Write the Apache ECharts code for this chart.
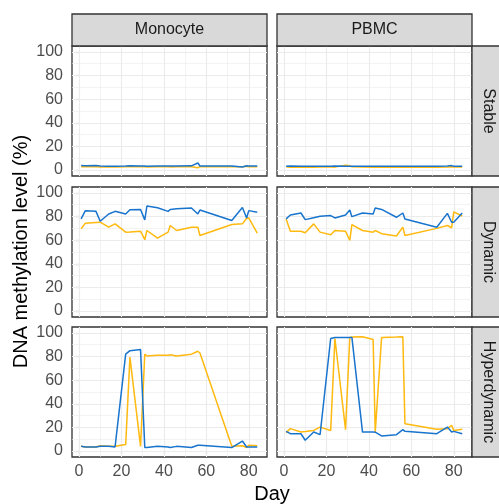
<!DOCTYPE html>
<html><head><meta charset="utf-8">
<script src="https://cdn.jsdelivr.net/npm/echarts@6/dist/echarts.min.js"></script>
<style>html,body{margin:0;padding:0;background:#fff}#c{width:499px;height:504px}</style>
</head><body><div id="c"></div>
<script>
// ---- data ----
const days = [1,3,8,10,14,17,22,24,29,31,32,37,42,43,46,53,56,57,72,77,79,80,84];
const cellTypes = ['Monocyte','PBMC'];
const groups = ['Stable','Dynamic','Hyperdynamic'];
const xTicks = [0,20,40,60,80];
const yTicks = [0,20,40,60,80,100];
const xMinor = [10,30,50,70];
const yMinor = [10,30,50,70,90];

const monoStableBlue   = [3.8,3.7,3.8,3.4,3.3,3.3,3.5,3.6,3.4,3.5,3.3,3.4,3.5,3.4,3.5,3.6,6.0,3.5,3.5,2.6,3.6,3.5,3.5];
const monoStableYellow = [2.8,2.8,2.9,2.7,2.8,2.7,2.8,2.9,2.8,2.8,2.7,2.8,2.8,2.7,2.8,2.8,2.0,2.9,2.8,2.8,3.2,2.8,2.8];
const pbmcStableBlue   = [3.3,3.4,3.3,3.2,3.3,3.3,3.2,3.4,3.3,3.3,3.3,3.2,3.3,3.3,3.3,3.3,3.3,3.3,3.3,3.4,3.8,3.3,3.3];
const pbmcStableYellow = [2.8,2.5,2.5,2.6,2.5,2.6,2.8,2.5,4.2,3.6,2.8,2.6,2.5,2.6,2.5,2.6,2.5,2.6,2.5,2.6,2.9,2.6,2.6];

const monoDynBlue   = [78,85,84.4,76,82.2,84.4,82.2,85.8,86,77.2,88.9,87.5,84.4,86,86.5,87.2,82.2,85.5,76.6,87.7,78.8,85,83.6];
const monoDynYellow = [69.7,74.4,75,75.2,71,73.8,66.8,67,67.6,60.4,68.2,61.8,66.8,72.4,68.2,71,71,64,73.2,73.8,78.6,78.8,66];
const pbmcDynBlue   = [78,81.3,83,77.4,79,80.2,80.8,78.8,81.3,85.5,79.9,83,82.2,87.2,86,79.4,83,78,71,82.7,75.2,75.2,83];
const pbmcDynYellow = [78,67.6,67.6,66.3,73.8,66.8,64.6,68.2,67.6,59.9,73.2,68.2,66.8,68.2,65.5,63.5,71,64,70,72.4,70.5,84,80.5];

const monoHypBlue   = [4,3.5,3.5,4,4,3.5,82,85,86,3,3,4,3.5,3,4,3,5,5,3,8.5,3.5,3.5,3.5];
const monoHypYellow = [4,3.5,3.5,4.5,4,4,5.5,79.5,4,82,80.5,81,81,81.5,80.5,82,84.5,83,4,4.5,3,5,4.5];
const pbmcHypBlue   = [16.7,14.7,14.7,9.2,16.1,13.9,95.3,96.2,96.2,96.2,96.2,16.1,16.1,16,12.8,13.9,18.1,16.7,14.7,20.3,16.1,16.7,14.7];
const pbmcHypYellow = [15.6,19,16.1,16.5,17.5,20.3,17.5,95.3,18.1,96.2,96.5,96.8,94.5,16.1,96.2,96.5,96.8,23.1,18.4,19,21.9,17.5,18.4];

const panels = {
  Monocyte: { Stable:[monoStableYellow, monoStableBlue], Dynamic:[monoDynYellow, monoDynBlue], Hyperdynamic:[monoHypYellow, monoHypBlue] },
  PBMC:     { Stable:[pbmcStableYellow, pbmcStableBlue], Dynamic:[pbmcDynYellow, pbmcDynBlue], Hyperdynamic:[pbmcHypYellow, pbmcHypBlue] }
};
const lineColors = ['#FFB90F', '#1874CD'];

// ---- layout ----
const FONT = "'Liberation Sans', Arial, Helvetica, sans-serif";
const colLeft = [72, 277], colW = 195;
const rowTop = [46, 187, 327], rowH = 130;
const stripTop = 14, stripH = 32, stripRightX = 472, stripRightW = 32;

const grids = [], xAxes = [], yAxes = [], series = [], graphics = [];
const major = {color:'#EBEBEB', width:1.1, type:'solid'};
const minor = {color:'#EBEBEB', width:0.6, type:'solid'};

groups.forEach((g, r) => {
  cellTypes.forEach((c, ci) => {
    const i = grids.length;
    grids.push({left: colLeft[ci], top: rowTop[r], width: colW, height: rowH,
      show: true, borderColor: '#333333', borderWidth: 1.3, backgroundColor: '#fff'});
    xAxes.push({type:'value', gridIndex:i, min:-3.3, max:88.6,
      axisLine:{show:false}, splitLine:{show:false},
      axisTick:{show: r===2, customValues: xTicks, length:3.5, lineStyle:{color:'#333333', width:1.1}},
      axisLabel:{show: r===2, customValues: xTicks, color:'#4D4D4D', fontSize:16, margin:7, fontFamily:FONT}});
    yAxes.push({type:'value', gridIndex:i, min:-5, max:105,
      axisLine:{show:false}, splitLine:{show:false},
      axisTick:{show: ci===0, customValues: yTicks, length:3.5, lineStyle:{color:'#333333', width:1.1}},
      axisLabel:{show: ci===0, customValues: yTicks, color:'#4D4D4D', fontSize:16, margin:9, fontFamily:FONT}});
    const ml = [];
    xMinor.forEach(v => ml.push({xAxis:v, lineStyle:minor}));
    yMinor.forEach(v => ml.push({yAxis:v, lineStyle:minor}));
    xTicks.forEach(v => ml.push({xAxis:v, lineStyle:major}));
    yTicks.forEach(v => ml.push({yAxis:v, lineStyle:major}));
    series.push({type:'line', xAxisIndex:i, yAxisIndex:i, data:[], silent:true, z:1,
      markLine:{silent:true, z:1, zlevel:0, symbol:['none','none'], animation:false, label:{show:false},
        emphasis:{disabled:true}, data: ml}});
    panels[c][g].forEach((vals, k) => {
      series.push({type:'line', xAxisIndex:i, yAxisIndex:i, z:6+k, symbol:'none', silent:true,
        lineStyle:{color: lineColors[k], width:1.5}, itemStyle:{color: lineColors[k]},
        data: days.map((d, j) => [d, vals[j]])});
    });
  });
  // right strip
  graphics.push({type:'rect', shape:{x:stripRightX, y:rowTop[r], width:stripRightW, height:rowH},
    style:{fill:'#D9D9D9', stroke:'#333333', lineWidth:1.3}, z:10});
  graphics.push({type:'text', x: stripRightX + stripRightW/2, y: rowTop[r] + rowH/2, rotation: -Math.PI/2,
    style:{text:g, fill:'#1A1A1A', fontSize:16, fontFamily:FONT, align:'center', verticalAlign:'middle'}, z:11});
});
cellTypes.forEach((c, ci) => {
  graphics.push({type:'rect', shape:{x:colLeft[ci], y:stripTop, width:colW, height:stripH},
    style:{fill:'#D9D9D9', stroke:'#333333', lineWidth:1.3}, z:10});
  graphics.push({type:'text', x: colLeft[ci] + colW/2, y: stripTop + stripH/2,
    style:{text:c, fill:'#1A1A1A', fontSize:16, fontFamily:FONT, align:'center', verticalAlign:'middle'}, z:11});
});
graphics.push({type:'text', x:21, y:(rowTop[0] + rowTop[2] + rowH)/2, rotation: Math.PI/2,
  style:{text:'DNA methylation level (%)', fill:'#000', fontSize:20, fontFamily:FONT, align:'center', verticalAlign:'middle'}});
graphics.push({type:'text', x:(colLeft[0] + colLeft[1] + colW)/2, y:494,
  style:{text:'Day', fill:'#000', fontSize:20, fontFamily:FONT, align:'center', verticalAlign:'middle'}});

const chart = echarts.init(document.getElementById('c'), null, {renderer:'canvas'});
chart.setOption({animation:false, backgroundColor:'#fff', grid:grids, xAxis:xAxes, yAxis:yAxes, series:series, graphic:graphics});
</script>
</body></html>
